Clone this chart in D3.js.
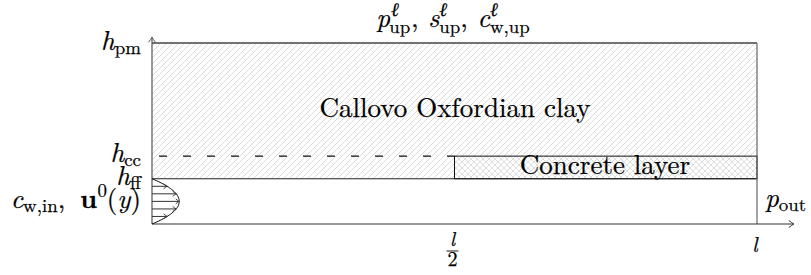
<!DOCTYPE html>
<html><head><meta charset="utf-8">
<script src="https://cdn.jsdelivr.net/npm/d3@7"></script>
<style>html,body{margin:0;padding:0;background:#fff;}svg{display:block;}</style>
</head><body>
<svg id="c" width="811" height="275"></svg>
<script>
// ---- data (domain units) ----
const xDomain = [0, 1];                 // channel length 0..l
const xAxisEnd = 1.061;                 // arrow tip of x axis
const yAxisEnd = 4.127;                 // arrow tip of y axis
const heightNames = ["ff", "cc", "pm"];
const heightValues = [1, 1.5, 4];       // h_ff, h_cc, h_pm
const concreteRange = [0.5, 1];         // concrete layer from l/2 to l
const xTickValues = [0.5, 1];
const xTickLabels = ["l/2", "l"];
const inletLevels = [0.167, 0.333, 0.5, 0.667, 0.833]; // fractions of fluid height
const inletPeak = 0.045;                // max of parabolic profile (x units)

const FS = 27;
const FONT = '"Latin Modern Roman", "Liberation Serif", serif';
const svg = d3.select("#c");
const x = d3.scaleLinear().domain(xDomain).range([152, 757]);
const y = d3.scaleLinear().domain([0, 4]).range([224, 43]);
const hff = heightValues[0], hcc = heightValues[1], hpm = heightValues[2];

// patterns
const defs = svg.append("defs");
const p1 = defs.append("pattern").attr("id","ne").attr("patternUnits","userSpaceOnUse")
  .attr("width",6).attr("height",6);
p1.append("path").attr("d","M0,6L6,0M-1.5,1.5L1.5,-1.5M4.5,7.5L7.5,4.5")
  .attr("stroke","#cdcdcd").attr("stroke-width",0.75);
const p2 = defs.append("pattern").attr("id","xh").attr("patternUnits","userSpaceOnUse")
  .attr("width",6).attr("height",6);
p2.append("path").attr("d","M0,6L6,0M-1.5,1.5L1.5,-1.5M4.5,7.5L7.5,4.5M0,0L6,6M-1.5,4.5L1.5,7.5M4.5,-1.5L7.5,1.5")
  .attr("stroke","#d0d0d0").attr("stroke-width",0.7);

// clay region
svg.append("rect").attr("x",x(0)).attr("y",y(hpm)).attr("width",x(1)-x(0)).attr("height",y(hff)-y(hpm))
  .attr("fill","url(#ne)");
// concrete
svg.append("rect").attr("x",x(concreteRange[0])).attr("y",y(hcc)).attr("width",x(concreteRange[1])-x(concreteRange[0]))
  .attr("height",y(hff)-y(hcc)).attr("fill","#fff");
svg.append("rect").attr("x",x(concreteRange[0])).attr("y",y(hcc)).attr("width",x(concreteRange[1])-x(concreteRange[0]))
  .attr("height",y(hff)-y(hcc)).attr("fill","url(#xh)").attr("stroke","#111").attr("stroke-width",1);

// dashed h_cc line
svg.append("line").attr("x1",x(0)).attr("x2",x(concreteRange[0])).attr("y1",y(hcc)).attr("y2",y(hcc))
  .attr("stroke","#111").attr("stroke-width",1.1).attr("stroke-dasharray","8,16").attr("stroke-dashoffset",17);

// domain lines
svg.append("line").attr("x1",x(0)).attr("x2",x(1)).attr("y1",y(hpm)).attr("y2",y(hpm)).attr("stroke","#444").attr("stroke-width",1.3);
svg.append("line").attr("x1",x(0)).attr("x2",x(1)).attr("y1",y(hff)).attr("y2",y(hff)).attr("stroke","#222").attr("stroke-width",1.2);
svg.append("line").attr("x1",x(1)).attr("x2",x(1)).attr("y1",y(hpm)).attr("y2",y(0)).attr("stroke","#666").attr("stroke-width",1.2);

// axes with arrows
function arrowHead(tx, ty, dir) {
  const L = 5, W = 3.5;
  if (dir === "up") return `M${tx-W},${ty+L}Q${tx-1},${ty+2} ${tx},${ty}Q${tx+1},${ty+2} ${tx+W},${ty+L}`;
  return `M${tx-L},${ty-W}Q${tx-2},${ty-1} ${tx},${ty}Q${tx-2},${ty+1} ${tx-L},${ty+W}`;
}
svg.append("line").attr("x1",x(0)).attr("x2",x(xAxisEnd)).attr("y1",y(0)).attr("y2",y(0)).attr("stroke","#333").attr("stroke-width",1.2);
svg.append("path").attr("d",arrowHead(x(xAxisEnd),y(0),"right")).attr("fill","none").attr("stroke","#333").attr("stroke-width",1);
svg.append("line").attr("x1",x(0)).attr("x2",x(0)).attr("y1",y(0)).attr("y2",y(yAxisEnd)).attr("stroke","#555").attr("stroke-width",1.2);
svg.append("path").attr("d",arrowHead(x(0),y(yAxisEnd),"up")).attr("fill","none").attr("stroke","#555").attr("stroke-width",1);

// inlet parabolic profile
const prof = d3.range(0, 1.0001, 0.02);
const par = d3.line().x(t => x(4*inletPeak*t*(1-t))).y(t => y(hff*t));
svg.append("path").attr("d",par(prof)).attr("fill","none").attr("stroke","#111").attr("stroke-width",1);
inletLevels.forEach(t => {
  const xe = x(4*inletPeak*t*(1-t)), ye = y(hff*t);
  svg.append("line").attr("x1",x(0)).attr("x2",xe).attr("y1",ye).attr("y2",ye).attr("stroke","#333").attr("stroke-width",1);
  svg.append("path").attr("d",`M${xe-3.5},${ye-2.5}Q${xe-1},${ye-0.5} ${xe},${ye}Q${xe-1},${ye+0.5} ${xe-3.5},${ye+2.5}`).attr("fill","none").attr("stroke","#333").attr("stroke-width",0.9);
});

// ---- math text layout ----
function txt(sel) { return sel.style("font-family", FONT).attr("fill","#000").attr("stroke","#000").attr("stroke-width",0.25); }
function put(g, t, s, fs, px, py) {
  const el = txt(g.append("text")).attr("x",px).attr("y",py).attr("font-size",fs)
    .attr("font-style", s==="i" ? "italic" : "normal").attr("font-weight", s==="b" ? "bold" : "normal")
    .text(t);
  return el.node().getComputedTextLength();
}
function mathText(atoms, ox, oy, anchor, fs) {
  const g = svg.append("g");
  let cx = 0;
  atoms.forEach(a => {
    if (a.gap !== undefined) { cx += a.gap*fs; return; }
    let w = put(g, a.t, a.s, fs, cx, 0);
    if (a.sup || a.sub) {
      const sx = cx + w;
      let ws = 0;
      if (a.sup) ws = Math.max(ws, put(g, a.sup[0], a.sup[1], fs*0.7, sx + (a.supK||0)*fs, -0.40*fs));
      if (a.sub) ws = Math.max(ws, put(g, a.sub[0], a.sub[1], fs*0.7, sx + (a.subK||0)*fs, (a.sup ? 0.24 : 0.16)*fs));
      w = sx - cx + ws;
    }
    cx += w;
  });
  const dx = anchor === "end" ? -cx : anchor === "middle" ? -cx/2 : 0;
  g.attr("transform", `translate(${ox+dx},${oy})`);
  return g;
}

// height labels
const heightBaselines = {ff: 185, cc: 162, pm: 50};
heightNames.forEach(n => {
  mathText([{t:"h", s:"i", sub:[n,"r"]}], 141, heightBaselines[n], "end", FS);
});
// top boundary
mathText([{t:"p", s:"i", sup:["ℓ","i"], supK:0.04, sub:["up","r"], subK:-0.03}, {t:",", s:"r"}, {gap:0.36},
          {t:"s", s:"i", sup:["ℓ","i"], sub:["up","r"]}, {t:",", s:"r"}, {gap:0.36},
          {t:"c", s:"i", sup:["ℓ","i"], sub:["w,up","r"]}], 453, 27, "middle", FS);
// inlet
mathText([{t:"c", s:"i", sub:["w,in","r"]}, {t:",", s:"r"}, {gap:0.55},
          {t:"u", s:"b", sup:["0","r"]}, {t:"(", s:"r"}, {t:"y", s:"i"}, {t:")", s:"r"}], 141, 208, "end", FS);
// outlet
mathText([{t:"p", s:"i", sub:["out","r"]}], 765, 207, "start", FS);

// region labels
txt(svg.append("text")).attr("x",455).attr("y",117).attr("text-anchor","middle")
  .attr("font-size",FS).text("Callovo Oxfordian clay");
txt(svg.append("text")).attr("x",605).attr("y",174).attr("text-anchor","middle")
  .attr("font-size",FS).text("Concrete layer");

// x tick labels
xTickValues.forEach((v, i) => {
  const lab = xTickLabels[i];
  const cx = x(v) - 2;
  if (lab.includes("/")) {
    const [num, den] = lab.split("/");
    txt(svg.append("text")).attr("x",cx).attr("y",246).attr("text-anchor","middle")
      .attr("font-size",20).attr("font-style","italic").text(num);
    svg.append("line").attr("x1",cx-6).attr("x2",cx+6).attr("y1",251).attr("y2",251).attr("stroke","#000").attr("stroke-width",0.9);
    txt(svg.append("text")).attr("x",cx).attr("y",266).attr("text-anchor","middle")
      .attr("font-size",20).text(den);
  } else {
    txt(svg.append("text")).attr("x",cx).attr("y",252).attr("text-anchor","middle")
      .attr("font-size",21).attr("font-style","italic").text(lab);
  }
});
</script>
</body></html>
